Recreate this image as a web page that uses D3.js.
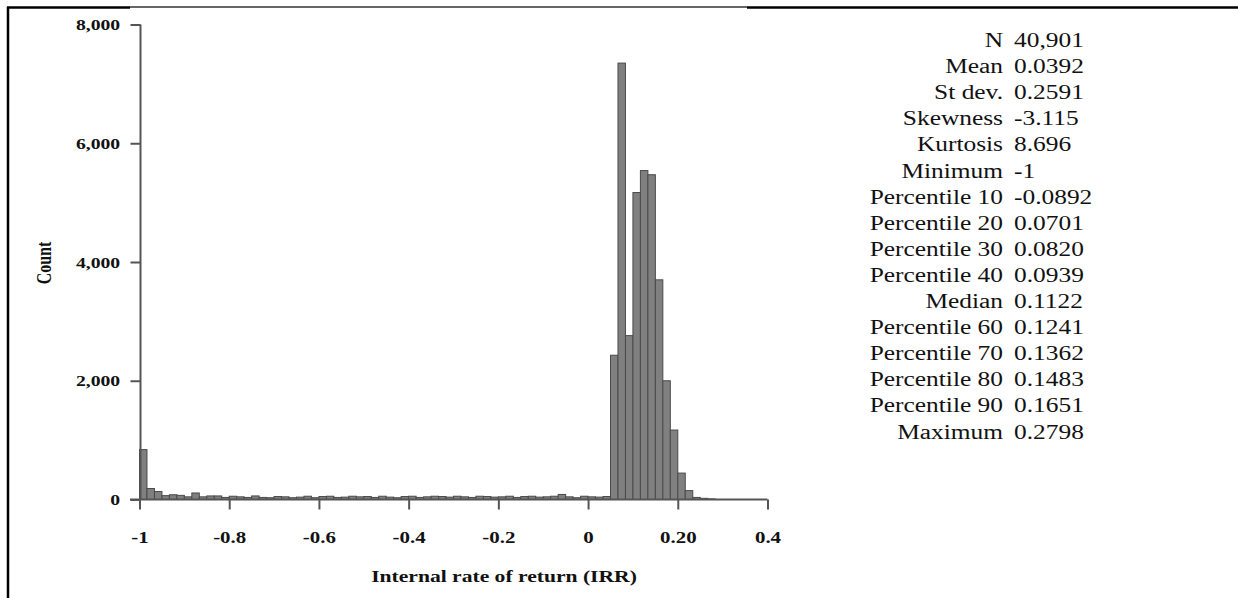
<!DOCTYPE html>
<html>
<head>
<meta charset="utf-8">
<script src="https://cdn.jsdelivr.net/npm/d3@7"></script>
<style>
  html, body { margin: 0; padding: 0; background: #fff; }
  svg { display: block; }
  text { font-family: "Liberation Serif", "Times New Roman", serif; }
</style>
</head>
<body>
<svg id="chart" width="1238" height="598"></svg>
<script>
// ---- Data ----
const binStart = -1;
const binWidth = 1 / 60;
const counts = [
  840, 185, 135, 65, 80, 70, 45, 110, 45, 60, 60, 35,
  55, 45, 35, 60, 35, 30, 50, 45, 30, 40,
  55, 30, 50, 55, 35, 40, 55, 45, 50, 35,
  55, 40, 30, 50, 55, 35, 45, 55, 50, 40,
  55, 45, 35, 55, 50, 40, 45, 55, 35, 50,
  55, 40, 45, 55, 85, 45, 30, 55, 45, 40, 50,
  2430, 7350, 2760, 5170, 5540, 5470, 3700, 2000, 1170, 445, 150, 35, 20, 10
];
const xTicks = [-1, -0.8, -0.6, -0.4, -0.2, 0, 0.2, 0.4];
const xTickLabels = ["-1", "-0.8", "-0.6", "-0.4", "-0.2", "0", "0.20", "0.4"];
const yTicks = [0, 2000, 4000, 6000, 8000];
const statLabels = ["N", "Mean", "St dev.", "Skewness", "Kurtosis", "Minimum",
  "Percentile 10", "Percentile 20", "Percentile 30", "Percentile 40", "Median",
  "Percentile 60", "Percentile 70", "Percentile 80", "Percentile 90", "Maximum"];
const statValues = ["40,901", "0.0392", "0.2591", "-3.115", "8.696", "-1",
  "-0.0892", "0.0701", "0.0820", "0.0939", "0.1122",
  "0.1241", "0.1362", "0.1483", "0.1651", "0.2798"];
const xLabel = "Internal rate of return (IRR)";
const yLabel = "Count";

// ---- Layout ----
const SX = 1.27; // horizontal stretch of glyphs
const svg = d3.select("#chart");
const x = d3.scaleLinear().domain([-1, 0.4]).range([139.5, 767.5]);
const y = d3.scaleLinear().domain([0, 8000]).range([499.5, 24.5]);

// frame lines
svg.append("line").attr("x1", 8).attr("x2", 8).attr("y1", 7).attr("y2", 598)
  .attr("stroke", "#000").attr("stroke-width", 2.5);
svg.append("line").attr("x1", 7).attr("x2", 130).attr("y1", 7.5).attr("y2", 7.5)
  .attr("stroke", "#000").attr("stroke-width", 2.5);
svg.append("line").attr("x1", 130).attr("x2", 747).attr("y1", 7).attr("y2", 7)
  .attr("stroke", "#333").attr("stroke-width", 1.5);
svg.append("line").attr("x1", 747).attr("x2", 1238).attr("y1", 7.5).attr("y2", 7.5)
  .attr("stroke", "#000").attr("stroke-width", 2.5);

// bars
const bins = counts.map((c, i) => ({ x0: binStart + i * binWidth, x1: binStart + (i + 1) * binWidth, c }));
svg.append("g").selectAll("rect").data(bins).join("rect")
  .attr("x", d => x(d.x0))
  .attr("width", d => x(d.x1) - x(d.x0))
  .attr("y", d => y(d.c))
  .attr("height", d => y(0) - y(d.c))
  .attr("fill", "#808080")
  .attr("stroke", "#4a4a4a")
  .attr("stroke-width", 1);

// x axis
const xAxis = d3.axisBottom(x).tickValues(xTicks).tickSize(10).tickPadding(24)
  .tickFormat((d, i) => xTickLabels[i]);
const gx = svg.append("g").attr("transform", `translate(0,${y(0)})`).call(xAxis);
gx.select(".domain").attr("stroke", "#555").attr("stroke-width", 2).attr("d", `M130,0H${x(0.4)}`);
gx.selectAll(".tick line").attr("stroke", "#555").attr("stroke-width", 2);
gx.selectAll(".tick text")
  .attr("font-family", "Liberation Serif, Times New Roman, serif")
  .attr("font-weight", "bold").attr("font-size", 16.5).attr("fill", "#111")
  .attr("dy", null).attr("y", 44)
  .attr("transform", `scale(${SX},1)`);

// y axis
const yAxis = d3.axisLeft(y).tickValues(yTicks).tickSize(10).tickPadding(12)
  .tickFormat(d3.format(","));
const gy = svg.append("g").attr("transform", `translate(${x(-1) + 1},0)`).call(yAxis);
gy.select(".domain").attr("stroke", "#555").attr("stroke-width", 2).attr("d", `M0,${y(8000)}V${y(0)}`);
gy.selectAll(".tick line").attr("stroke", "#555").attr("stroke-width", 2);
gy.selectAll(".tick text")
  .attr("font-family", "Liberation Serif, Times New Roman, serif")
  .attr("font-weight", "bold").attr("font-size", 15.5).attr("fill", "#111")
  .attr("dy", "0.33em").attr("x", -16)
  .attr("transform", `scale(${SX},1)`);

// axis titles
svg.append("text")
  .attr("transform", `translate(504,582) scale(${SX},1)`)
  .attr("text-anchor", "middle").attr("font-weight", "bold").attr("font-size", 17)
  .attr("fill", "#111").text(xLabel);
svg.append("text")
  .attr("transform", `translate(51,263) scale(${SX},1) rotate(-90)`)
  .attr("text-anchor", "middle").attr("font-weight", "bold").attr("font-size", 16)
  .attr("fill", "#111").text(yLabel);

// stats table
const rowY = d3.scalePoint().domain(statLabels).range([47, 438.5]);
const tbl = svg.append("g");
statLabels.forEach((lab, i) => {
  tbl.append("text")
    .attr("transform", `translate(1003,${rowY(lab)}) scale(${SX},1)`)
    .attr("text-anchor", "end").attr("font-size", 20).attr("fill", "#111").text(lab);
  tbl.append("text")
    .attr("transform", `translate(1014,${rowY(lab)}) scale(${SX},1)`)
    .attr("text-anchor", "start").attr("font-size", 20).attr("fill", "#111").text(statValues[i]);
});
</script>
</body>
</html>
